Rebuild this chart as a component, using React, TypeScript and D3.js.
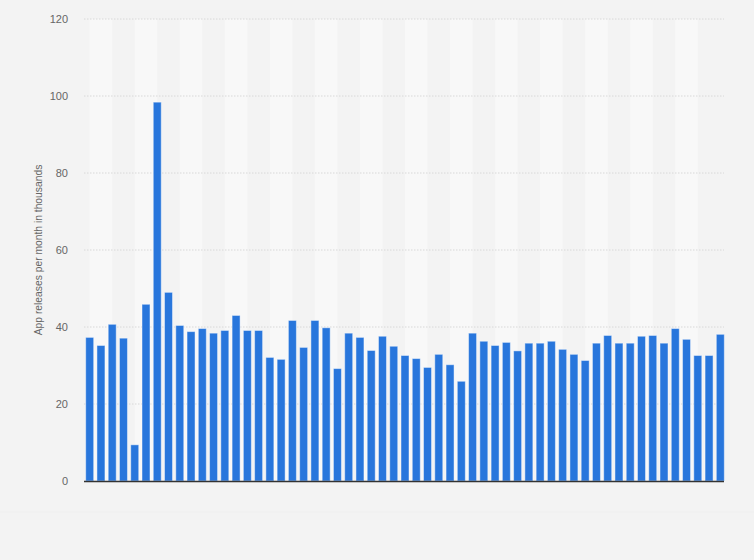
import React from "react";
import * as d3 from "d3";

// monthly app releases (thousands)
const releases = [
  37.3, 35.2, 40.7, 37.1, 9.4, 45.9, 98.4, 49.0, 40.4, 38.8,
  39.6, 38.4, 39.1, 43.0, 39.1, 39.1, 32.1, 31.6, 41.7, 34.7,
  41.7, 39.8, 29.2, 38.4, 37.3, 33.9, 37.6, 35.0, 32.6, 31.8,
  29.5, 32.9, 30.2, 25.9, 38.4, 36.3, 35.2, 36.0, 33.8, 35.8,
  35.8, 36.3, 34.2, 32.9, 31.3, 35.8, 37.8, 35.8, 35.8, 37.6,
  37.8, 35.8, 39.6, 36.8, 32.6, 32.6, 38.1,
];
const months = releases.map((_, i) => i);
const yTicks = [0, 20, 40, 60, 80, 100, 120];
const yLabel = "App releases per month in thousands";

const width = 754;
const height = 560;
const margin = { top: 19, right: 28, bottom: 79, left: 84 };

const App: React.FC = () => {
  const xScale = d3
    .scaleBand<number>()
    .domain(months)
    .range([margin.left, width - margin.right])
    .paddingInner(0.29)
    .paddingOuter(0.15);

  const yScale = d3
    .scaleLinear()
    .domain([0, 120])
    .range([height - margin.bottom, margin.top]);

  const center = (i: number) => xScale(i)! + xScale.bandwidth() / 2;

  // light stripes every other pair of months
  const stripes = d3.range(0, months.length - 2, 4);

  return (
    <svg
      width={width}
      height={height}
      style={{ position: "absolute", left: 0, top: 0, fontFamily: "Arial, 'Liberation Sans', sans-serif" }}
    >
      <rect width={width} height={height} fill="#f3f3f3" />
      <line x1={0} x2={width} y1={512} y2={512} stroke="#efefef" />

      {stripes.map((i) => (
        <rect
          key={i}
          x={center(i)}
          y={margin.top}
          width={center(i + 2) - center(i)}
          height={yScale(0) - margin.top}
          fill="#f8f8f8"
        />
      ))}

      {yTicks.map((t) => (
        <g key={t}>
          {t > 0 && (
            <line
              x1={margin.left}
              x2={width - margin.right - 2}
              y1={yScale(t)}
              y2={yScale(t)}
              stroke="#d8d8d8"
              strokeDasharray="1.5,1.5"
            />
          )}
          <text
            x={68}
            y={yScale(t)}
            dy="0.35em"
            textAnchor="end"
            fontSize={11}
            fill="#666666"
          >
            {t}
          </text>
        </g>
      ))}

      {releases.map((v, i) => (
        <rect
          key={i}
          x={xScale(i)}
          y={yScale(v)}
          width={xScale.bandwidth()}
          height={yScale(0) - yScale(v)}
          fill="#2876dc"
          stroke="#ffffff"
          strokeOpacity={0.45}
          strokeWidth={1}
        />
      ))}

      <line
        x1={margin.left}
        x2={width - margin.right - 2}
        y1={yScale(0) + 0.5}
        y2={yScale(0) + 0.5}
        stroke="#333"
        strokeWidth={1.5}
      />

      <text
        transform={`translate(42, ${(yScale(0) + margin.top) / 2}) rotate(-90)`}
        textAnchor="middle"
        fontSize={10.3}
        fill="#666666"
      >
        {yLabel}
      </text>
    </svg>
  );
};

export default App;
